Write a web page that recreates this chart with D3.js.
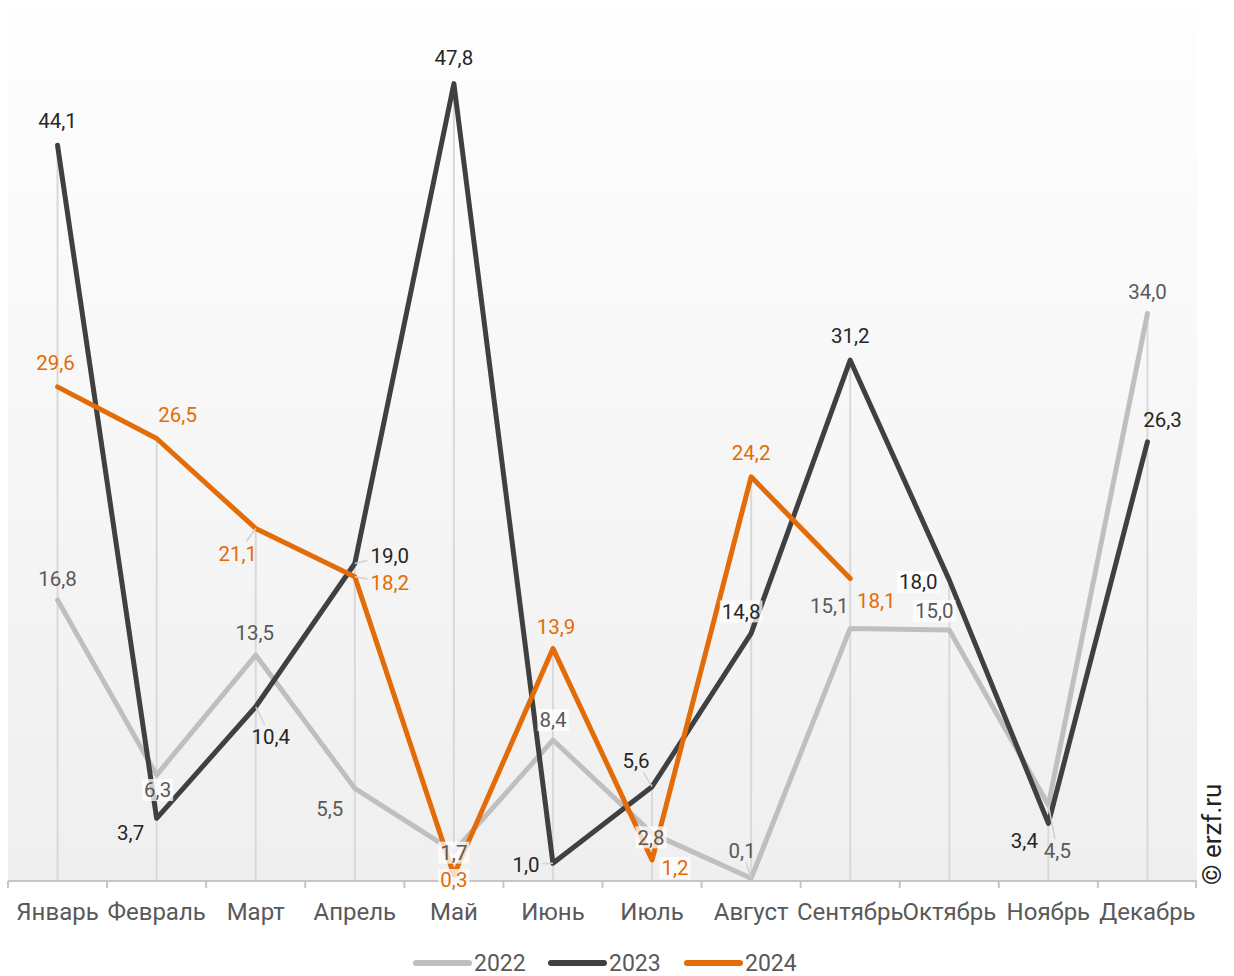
<!DOCTYPE html>
<html><head><meta charset="utf-8">
<script src="https://cdn.jsdelivr.net/npm/d3@7"></script>
<style>
html,body{margin:0;padding:0;background:#fff;}
svg{display:block;font-family:Roboto,"Noto Sans",sans-serif;}
</style></head>
<body>
<svg id="chart" width="1234" height="976"></svg>
<script>
const months = ["Январь","Февраль","Март","Апрель","Май","Июнь","Июль","Август","Сентябрь","Октябрь","Ноябрь","Декабрь"];
const years = ["2022","2023","2024"];
const values2022 = [16.8, 6.3, 13.5, 5.5, 1.7, 8.4, 2.8, 0.1, 15.1, 15.0, 4.5, 34.0];
const values2023 = [44.1, 3.7, 10.4, 19.0, 47.8, 1.0, 5.6, 14.8, 31.2, 18.0, 3.4, 26.3];
const values2024 = [29.6, 26.5, 21.1, 18.2, 0.3, 13.9, 1.2, 24.2, 18.1];
const yMax = 52.4;

// label layout: [dx, dy, leader, box]
const labelLayout = {
  "2022": [[0,-21,0,0],[1,15,0,1],[-1,-22,0,0],[-25,20,0,0],[0,1,0,1],[0,-20,0,1],[-1,4,0,1],[-9,-28,1,0],[-21,-23,0,0],[-15,-19,0,1],[9,46,1,0],[0,-22,0,0]],
  "2023": [[0,-25,0,0],[-26,14,0,0],[15,30,1,0],[35,-8,1,0],[0,-26,0,0],[-27,1,1,0],[-16,-26,1,0],[-10,-22,0,1],[0,-25,0,0],[-31,2,0,1],[-24,17,0,0],[15,-22,0,0]],
  "2024": [[-2,-24,0,0],[21,-24,0,0],[-18,25,1,0],[35,6,1,0],[0,5,0,1],[3,-22,0,0],[23,8,0,1],[0,-24,0,0],[26,22,0,0]]
};
const seriesValues = {"2022": values2022, "2023": values2023, "2024": values2024};
const lineColors = {"2022":"#bfbfbf","2023":"#404040","2024":"#e36c09"};
const labelColors = {"2022":"#595959","2023":"#262626","2024":"#e36c09"};

const svg = d3.select("#chart");
const L = 8, R = 1197, T = 7, B = 880;

const x = d3.scaleBand().domain(months).range([L, R]).padding(0);
const y = d3.scaleLinear().domain([0, yMax]).range([B, T]);
const cx = m => x(m) + x.bandwidth()/2;

// background gradient
const defs = svg.append("defs");
const grad = defs.append("linearGradient").attr("id","bg").attr("x1",0).attr("y1",0).attr("x2",0).attr("y2",1);
grad.append("stop").attr("offset","0%").attr("stop-color","#fefefe");
grad.append("stop").attr("offset","100%").attr("stop-color","#efefef");
svg.append("rect").attr("x",L).attr("y",T).attr("width",R-L).attr("height",B-T).attr("fill","url(#bg)");

// drop lines from max per category
months.forEach((m,i)=>{
  const vals = years.map(yr=>seriesValues[yr][i]).filter(v=>v!=null);
  const mx = d3.max(vals);
  svg.append("line").attr("x1",cx(m)).attr("x2",cx(m)).attr("y1",y(mx)).attr("y2",B)
    .attr("stroke","#d9d9d9").attr("stroke-width",2);
});

// x axis
const axis = svg.append("g").attr("transform",`translate(0,${B+1})`);
axis.append("line").attr("x1",L).attr("x2",R).attr("stroke","#c6c6c6").attr("stroke-width",2);
const edges = months.map(m=>x(m)).concat([R-1]);
axis.selectAll("line.tick").data(edges).join("line").attr("class","tick")
  .attr("x1",d=>d).attr("x2",d=>d).attr("y1",0).attr("y2",7).attr("stroke","#c6c6c6").attr("stroke-width",2);
axis.selectAll("text").data(months).join("text")
  .attr("x",d=>cx(d)).attr("y",39).attr("text-anchor","middle")
  .attr("font-size",24).attr("fill","#595959").text(d=>d);

// lines
const lineGen = d3.line().x((d,i)=>cx(months[i])).y(d=>y(d));
years.forEach(yr=>{
  svg.append("path").datum(seriesValues[yr]).attr("d",lineGen)
    .attr("fill","none").attr("stroke",lineColors[yr]).attr("stroke-width",5)
    .attr("stroke-linecap","round").attr("stroke-linejoin","round");
});

// labels
const fmt = v => d3.format(".1f")(v).replace(".",",");
const labG = svg.append("g");
years.forEach(yr=>{
  seriesValues[yr].forEach((v,i)=>{
    const [dx,dy,leader,box] = labelLayout[yr][i];
    const px = cx(months[i]), py = y(v);
    const lx = px+dx, ly = py+dy;
    const g = labG.append("g");
    const t = g.append("text").attr("x",lx).attr("y",ly).attr("dy","0.36em")
      .attr("text-anchor","middle").attr("font-size",20.5).attr("fill",labelColors[yr]).text(fmt(v));
    const bb = t.node().getBBox();
    if(box){
      g.insert("rect","text").attr("x",bb.x-2).attr("y",ly-11).attr("width",bb.width+4).attr("height",22)
        .attr("fill","#ffffff").attr("fill-opacity",0.75);
    }
    if(leader){
      const hw = bb.width/2+3, hh = 12;
      const ddx = px-lx, ddy = py-ly;
      const s = Math.min(hw/Math.abs(ddx||1e-6), hh/Math.abs(ddy||1e-6));
      const ex = lx + ddx*s, ey = ly + ddy*s;
      g.insert("line","text").attr("x1",ex).attr("y1",ey).attr("x2",px).attr("y2",py)
        .attr("stroke","#d0d0d0").attr("stroke-width",1.5);
    }
  });
});

// legend
const legend = svg.append("g").attr("transform","translate(0,963)");
const legX = [416, 551, 687];
years.forEach((yr,i)=>{
  legend.append("line").attr("x1",legX[i]).attr("x2",legX[i]+53).attr("y1",0).attr("y2",0)
    .attr("stroke",lineColors[yr]).attr("stroke-width",6).attr("stroke-linecap","round");
  legend.append("text").attr("x",legX[i]+58).attr("y",0).attr("dy","0.33em")
    .attr("font-size",23).attr("fill","#595959").text(yr);
});

// copyright
svg.append("text").attr("transform","translate(1221,885) rotate(-90)")
  .attr("font-size",26).attr("fill","#222").text("© erzf.ru");
</script>
</body></html>
